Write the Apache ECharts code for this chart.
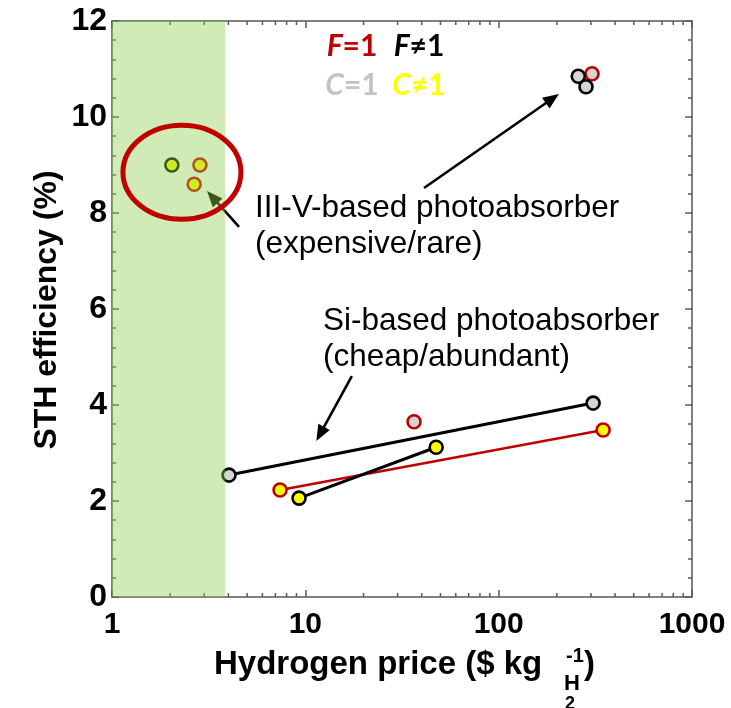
<!DOCTYPE html>
<html>
<head>
<meta charset="utf-8">
<script src="https://cdn.jsdelivr.net/npm/echarts@6/dist/echarts.min.js"></script>
<style>
  html, body { margin: 0; padding: 0; background: #fff; }
  #chart { width: 731px; height: 708px; }
</style>
</head>
<body>
<div id="chart"></div>
<script>
// Solar-to-hydrogen efficiency (%) against hydrogen price ($ per kg H2), log price axis
const xTicks = [1, 10, 100, 1000];
const yTicks = [0, 2, 4, 6, 8, 10, 12];
const xMinorTicks = [2, 3, 4, 5, 6, 7, 8, 9, 20, 30, 40, 50, 60, 70, 80, 90,
                     200, 300, 400, 500, 600, 700, 800, 900];
const lowCostBand = [1, 3.85];

// Si-based photoabsorbers
const siGrayBlack = [[4.03, 2.54], [308, 4.04]];
const siYellowRed = [[7.4, 2.23], [347, 3.48]];
const siYellowBlack = [[9.28, 2.06], [47.5, 3.12]];
const siGrayRed = [[36.5, 3.65]];
// III-V-based photoabsorbers
const iiiVGrayRed = [[304, 10.9]];
const iiiVGrayBlack = [[258, 10.85], [283, 10.63]];
const iiiVYellowBlack = [[2.04, 9.0]];
const iiiVYellowRed = [[2.85, 9.0], [2.66, 8.6]];

const RED = '#c00000';
const BLACK = '#000000';
const GRAY = '#d4d4d4';
const YELLOW = '#ffff00';
const AXIS_FONT = '"Liberation Sans", Arial, sans-serif';

const chart = echarts.init(document.getElementById('chart'), null, { renderer: 'canvas' });

function marks(data, fill, edge, joined, lineWidth) {
  return {
    type: joined ? 'line' : 'scatter',
    data: data,
    symbol: 'circle',
    symbolSize: 13,
    showSymbol: true,
    itemStyle: { color: fill, borderColor: edge, borderWidth: 2.6, opacity: 1 },
    lineStyle: { color: edge, width: lineWidth || 2.6 },
    z: 3,
    silent: true,
    animation: false
  };
}

const axisLine = { show: true, onZero: false, lineStyle: { color: '#808080', width: 2 } };
const axisTick = { show: true, inside: true, length: 7, lineStyle: { color: '#595959', width: 1.5 } };

const xAxisBase = {
  type: 'log', logBase: 10, min: 1, max: 1000,
  axisLine: axisLine, splitLine: { show: false },
  axisTick: Object.assign({ customValues: xTicks }, axisTick)
};
const yAxisBase = {
  type: 'value', min: 0, max: 12, interval: 2,
  axisLine: axisLine, splitLine: { show: false },
  axisTick: axisTick,
  minorTick: { show: true, splitNumber: 5, length: 4, lineStyle: { color: '#595959', width: 1.5 } },
  minorSplitLine: { show: false }
};

chart.setOption({
  animation: false,
  backgroundColor: '#ffffff',
  grid: { left: 112, right: 39, top: 21, bottom: 111, containLabel: false },
  xAxis: [
    Object.assign({}, xAxisBase, {
      position: 'bottom',
      axisLabel: {
        customValues: xTicks, fontSize: 30, fontWeight: 'bold', color: '#000',
        fontFamily: AXIS_FONT, margin: 13, lineHeight: 30,
        formatter: v => String(v)
      }
    }),
    Object.assign({}, xAxisBase, { position: 'top', axisLabel: { show: false } })
  ],
  yAxis: [
    Object.assign({}, yAxisBase, {
      position: 'left',
      axisLabel: {
        customValues: yTicks, fontSize: 32, fontWeight: 'bold', color: '#000',
        fontFamily: AXIS_FONT, margin: 5
      }
    }),
    Object.assign({}, yAxisBase, { position: 'right', axisLabel: { show: false } })
  ],
  series: [
    // minor ticks of the log price axis, bottom and top edges
    {
      type: 'custom', z: 1, silent: true, animation: false,
      data: xMinorTicks.map(v => [v, 0]),
      renderItem: (params, api) => {
        const b = api.coord([api.value(0), 0]);
        const t = api.coord([api.value(0), 12]);
        const st = { stroke: '#595959', lineWidth: 1.5 };
        return {
          type: 'group',
          children: [
            { type: 'line', shape: { x1: b[0], y1: b[1], x2: b[0], y2: b[1] - 4 }, style: st },
            { type: 'line', shape: { x1: t[0], y1: t[1], x2: t[0], y2: t[1] + 4 }, style: st }
          ]
        };
      }
    },
    marks(siGrayBlack, GRAY, BLACK, true, 3),
    marks(siYellowRed, YELLOW, RED, true, 2.6),
    marks(siYellowBlack, YELLOW, BLACK, true, 3),
    marks(siGrayRed, GRAY, RED, false),
    marks(iiiVGrayRed, GRAY, RED, false),
    marks(iiiVGrayBlack, GRAY, BLACK, false),
    marks(iiiVYellowBlack, YELLOW, BLACK, false),
    marks(iiiVYellowRed, YELLOW, RED, false),
    // translucent green band for the low-price region, laid over the marks
    {
      type: 'custom', z: 5, silent: true, animation: false,
      data: [lowCostBand],
      renderItem: (params, api) => {
        const p0 = api.coord([api.value(0), 12]);
        const p1 = api.coord([api.value(1), 0]);
        return {
          type: 'rect',
          shape: { x: p0[0], y: p0[1], width: p1[0] - p0[0], height: p1[1] - p0[1] },
          style: { fill: 'rgba(146,208,80,0.42)' }
        };
      }
    }
  ]
});

// ---- annotations ----
const px = (pt) => chart.convertToPixel({ gridIndex: 0 }, pt);

function arrow(fromPt, toPt, z) {
  const a = px(fromPt), b = px(toPt);
  const dx = b[0] - a[0], dy = b[1] - a[1];
  const len = Math.hypot(dx, dy);
  const ux = dx / len, uy = dy / len;
  const L = 16, W = 6.5;
  const bx = b[0] - ux * L, by = b[1] - uy * L;
  return [
    { type: 'line', z: z, silent: true,
      shape: { x1: a[0], y1: a[1], x2: bx + ux * 2, y2: by + uy * 2 },
      style: { stroke: '#000', lineWidth: 2.6 } },
    { type: 'polygon', z: z, silent: true,
      shape: { points: [[b[0], b[1]], [bx - uy * W, by + ux * W], [bx + uy * W, by - ux * W]] },
      style: { fill: '#000' } }
  ];
}

function label(text, x, y, size, extra) {
  return {
    type: 'text', x: x, y: y, z: 10, silent: true,
    style: Object.assign({
      text: text, fill: '#000', font: size + 'px "Liberation Sans", Arial, sans-serif',
      align: 'left', verticalAlign: 'middle'
    }, extra || {})
  };
}

function boldLabel(text, x, y, size, align) {
  return label(text, x, y, size, {
    font: 'bold ' + size + 'px "Liberation Sans", Arial, sans-serif',
    align: align || 'left'
  });
}

function legendText(letter, rest, color, cx, cy) {
  return {
    type: 'text', x: cx, y: cy, z: 10, silent: true,
    style: {
      text: '{i|' + letter + '}{n|' + rest + '}',
      align: 'center', verticalAlign: 'middle',
      rich: {
        i: { fontFamily: 'Lato', fontWeight: 'bold', fontStyle: 'italic', fontSize: 30, fill: color, color: color },
        n: { fontFamily: 'Lato', fontWeight: 'bold', fontSize: 30, fill: color, color: color }
      }
    }
  };
}

const ellipseCenter = px([2.3, 8.85]);

const elements = [].concat(
  arrow([4.54, 7.71], [3.10, 8.46], 4),
  arrow([41.1, 8.52], [205, 10.48], 4),
  arrow([17.4, 4.6], [11.4, 3.25], 4),
  [
    { type: 'ellipse', z: 10, silent: true,
      shape: { cx: ellipseCenter[0], cy: ellipseCenter[1], rx: 59, ry: 47 },
      style: { fill: null, stroke: RED, lineWidth: 5 } },

    legendText('F', '=1', RED, 352, 46),
    legendText('F', '\u22601', BLACK, 419, 46),
    legendText('C', '=1', '#c3c3c3', 352, 85),
    legendText('C', '\u22601', YELLOW, 419, 85),

    label('III-V-based photoabsorber', 255, 208, 31.5),
    label('(expensive/rare)', 255, 244, 31.5),
    label('Si-based photoabsorber', 323, 321, 31.5),
    label('(cheap/abundant)', 323, 357, 31.5),

    // axis titles
    { type: 'text', x: 47, y: 310, rotation: Math.PI / 2, z: 10, silent: true,
      style: { text: 'STH efficiency (%)', fill: '#000',
               font: 'bold 32px "Liberation Sans", Arial, sans-serif',
               align: 'center', verticalAlign: 'middle' } },
    boldLabel('Hydrogen price ($ kg', 214, 665, 33),
    boldLabel('-1', 566, 656, 20),
    boldLabel('H', 564, 684, 22),
    boldLabel('2', 565, 704, 18),
    boldLabel(')', 584, 665, 33)
  ]
);

chart.setOption({ graphic: { elements: elements } });
</script>
</body>
</html>
